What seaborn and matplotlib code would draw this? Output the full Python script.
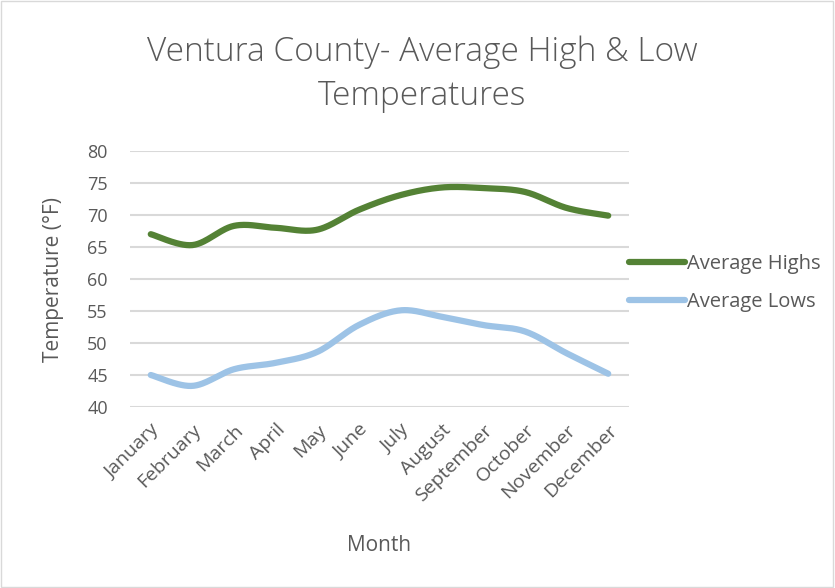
import numpy as np
import pandas as pd
import seaborn as sns
import matplotlib
matplotlib.use("Agg")
import matplotlib.pyplot as plt
from matplotlib.patches import Rectangle
from matplotlib.lines import Line2D

months = ["January", "February", "March", "April", "May", "June", "July",
          "August", "September", "October", "November", "December"]
highs = [67.0, 65.3, 68.3, 68.0, 67.7, 70.8, 73.1, 74.3, 74.2, 73.6, 71.1, 69.9]
lows = [45.0, 43.3, 45.9, 46.9, 48.6, 52.8, 55.1, 54.1, 52.8, 51.8, 48.4, 45.2]
yticks = [40, 45, 50, 55, 60, 65, 70, 75, 80]

sns.set_theme(style="white")
plt.rcParams['font.family'] = ['Open Sans', 'DejaVu Sans']


def smooth(xs, ys, n=30):
    # Catmull-Rom style smoothing (as Excel's smoothed line)
    xs = np.asarray(xs, float)
    ys = np.asarray(ys, float)
    px = np.concatenate([[xs[0]], xs, [xs[-1]]])
    py = np.concatenate([[ys[0]], ys, [ys[-1]]])
    ox, oy = [], []
    t = np.linspace(0, 1, n)
    for i in range(1, len(px) - 2):
        p0, p1, p2, p3 = (np.array([px[j], py[j]]) for j in range(i - 1, i + 3))
        c1 = p1 + (p2 - p0) / 6
        c2 = p2 - (p3 - p1) / 6
        b = ((1 - t) ** 3)[:, None] * p1 + (3 * (1 - t) ** 2 * t)[:, None] * c1 \
            + (3 * (1 - t) * t ** 2)[:, None] * c2 + (t ** 3)[:, None] * p2
        ox.extend(b[:, 0]); oy.extend(b[:, 1])
    return np.array(ox), np.array(oy)


fig = plt.figure(figsize=(8.35, 5.88), dpi=100)
ax = fig.add_axes([130 / 835, 1 - 407 / 588, 499 / 835, 256 / 588])

xi = np.arange(len(months))
series = [("Average Highs", highs, "#548235"), ("Average Lows", lows, "#9DC3E6")]
for name, vals, col in series:
    sx, sy = smooth(xi, vals)
    df = pd.DataFrame({"x": sx, "y": sy})
    sns.lineplot(data=df, x="x", y="y", ax=ax, color=col, linewidth=4.5,
                 sort=False, estimator=None, solid_capstyle="round")

ax.set_xlim(-0.5, 11.5)
ax.set_ylim(40, 80)
ax.set_yticks(yticks)
ax.set_yticklabels([str(v) for v in yticks], fontsize=13, color="#595959")
ax.set_xticks(xi)
ax.set_xticklabels(months, rotation=45, ha="right", rotation_mode="anchor",
                   fontsize=14, color="#595959")
ax.tick_params(axis="x", length=0, pad=10)
ax.tick_params(axis="y", length=0, pad=16)
for s in ax.spines.values():
    s.set_visible(False)
ax.yaxis.grid(True, color="#d9d9d9", linewidth=1.5)
ax.set_axisbelow(True)
ax.set_xlabel("Month", fontsize=15, color="#595959", labelpad=22)
ax.set_ylabel("Temperature (°F)", fontsize=15, color="#595959", labelpad=17)

fig.text(422 / 835, 1 - 74 / 588, "Ventura County- Average High & Low\nTemperatures",
         ha="center", va="center", fontsize=24, color="#595959",
         fontweight="light", linespacing=1.4)

handles = [Line2D([0], [0], color=c, linewidth=4.5) for _, _, c in series]
fig.legend(handles, [n for n, _, _ in series], loc="center left",
           bbox_to_anchor=(611 / 835, 1 - 283 / 588), frameon=False,
           fontsize=14.5, labelcolor="#595959", handlelength=2.75,
           handletextpad=0.1, labelspacing=0.85)

fig.patches.append(Rectangle((0.001, 0.001), 0.997, 0.997, transform=fig.transFigure,
                             fill=False, edgecolor="#d9d9d9", linewidth=1))

fig.savefig("out.png", dpi=100, facecolor="white")
